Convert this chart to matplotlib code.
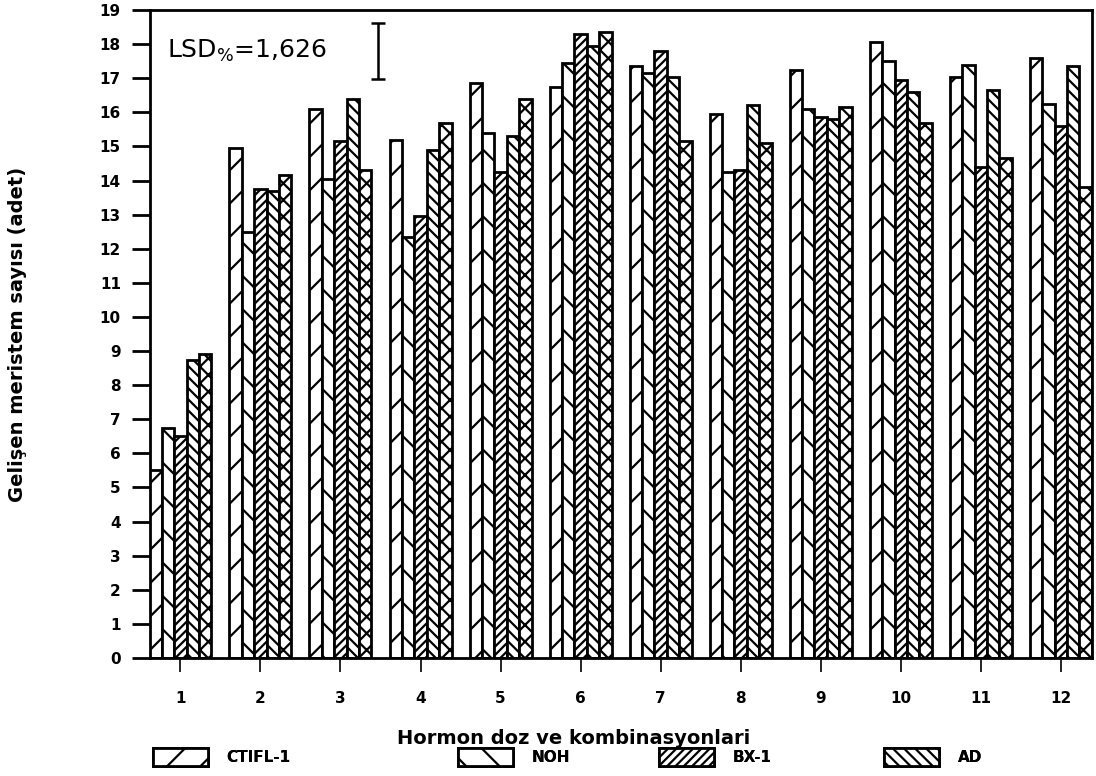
import matplotlib
matplotlib.use("Agg")
import matplotlib.pyplot as plt
import numpy as np

plt.rcParams["hatch.linewidth"] = 1.6
plt.rcParams["font.family"] = ["DejaVu Sans"]

groups = ["1", "2", "3", "4", "5", "6", "7", "8", "9", "10", "11", "12"]
series_names = ["CTIFL-1", "NOH", "BX-1", "AD", "_fifth"]

ctifl = [5.5, 14.95, 16.1, 15.2, 16.85, 16.75, 17.35, 15.95, 17.25, 18.05, 17.05, 17.6]
noh = [6.75, 12.5, 14.05, 12.35, 15.4, 17.45, 17.15, 14.25, 16.1, 17.5, 17.4, 16.25]
bx1 = [6.5, 13.75, 15.15, 12.95, 14.25, 18.3, 17.8, 14.3, 15.85, 16.95, 14.4, 15.6]
ad = [8.75, 13.7, 16.4, 14.9, 15.3, 17.95, 17.05, 16.2, 15.8, 16.6, 16.65, 17.35]
fifth = [8.9, 14.15, 14.3, 15.7, 16.4, 18.35, 15.15, 15.1, 16.15, 15.7, 14.65, 13.8]

lsd = 1.626

values = [ctifl, noh, bx1, ad, fifth]
hatches = ["/", "\\", "////", "\\\\\\", "xx"]
# legend entry left edges (pixels) as laid out in the original figure
legend_px = [147, 452, 653, 878]

fig = plt.figure(figsize=(10.96, 7.76), dpi=100, facecolor="white")
ax = fig.add_axes([150 / 1096, 1 - 658 / 776, (1092 - 150) / 1096, (658 - 10) / 776])

x = np.arange(1, len(groups) + 1)
width = 0.155
handles = []
for i, (name, vals, h) in enumerate(zip(series_names, values, hatches)):
    offs = (i - 2) * width
    b = ax.bar(x + offs, vals, width, color="white", edgecolor="black",
               linewidth=2, hatch=h, label=name)
    handles.append(b)

ax.set_xlim(0.62, 12.39)
ax.set_ylim(0, 19)
ax.set_yticks(range(0, 20))
ax.set_xticks(x)
ax.set_xticklabels(groups)
for lab in ax.get_xticklabels() + ax.get_yticklabels():
    lab.set_fontweight("bold")
    lab.set_fontsize(11)
ax.tick_params(axis="y", length=13, width=2, pad=8)
ax.tick_params(axis="x", length=10, width=1.2, pad=14)
for s in ax.spines.values():
    s.set_linewidth(2)

ax.set_ylabel("Gelişen meristem sayısı (adet)", fontsize=14, fontweight="bold", labelpad=52)

# LSD annotation
ax.text(0.83, 17.8, r"LSD$_{\%}$=1,626", fontsize=18, va="center", ha="left")
ax.errorbar([3.475], [17.8], yerr=[lsd / 2], fmt="none", ecolor="black",
            elinewidth=1.8, capsize=5, capthick=1.8)

fig.text(574 / 1096, 1 - 738 / 776, "Hormon doz ve kombinasyonlari",
         fontsize=14, fontweight="bold", ha="center", va="center")

for h, name, px in zip(handles[:4], series_names[:4], legend_px):
    leg = fig.legend(handles=[h], labels=[name], loc="center left",
                     bbox_to_anchor=(px / 1096, 1 - 757 / 776), frameon=False,
                     handlelength=3.6, handleheight=1.5, handletextpad=1.2,
                     borderaxespad=0, prop={"size": 11, "weight": "bold"})
    fig.add_artist(leg)

fig.savefig("out.png", dpi=100, facecolor="white")
